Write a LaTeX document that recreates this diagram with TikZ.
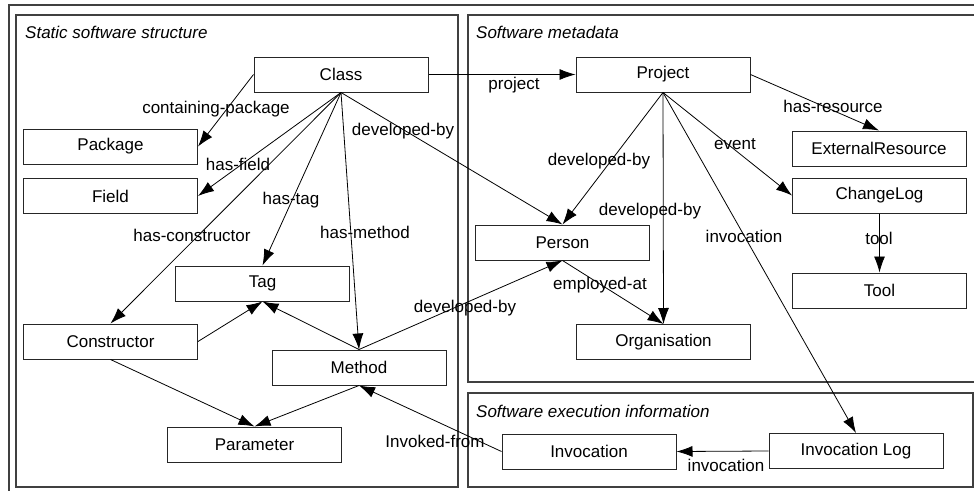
\documentclass[tikz,border=0pt]{standalone}
\usepackage{fontspec}
\setmainfont{Liberation Sans}
\usetikzlibrary{arrows.meta}
\begin{document}
\begin{tikzpicture}[x=1pt,y=-1pt,
  box/.style={draw=black!85,line width=1pt,minimum width=174pt,minimum height=35pt,inner sep=0pt,font=\fontsize{17}{19}\selectfont},
  frame/.style={draw=black!75,line width=1.4pt},
  ftitle/.style={anchor=west,inner sep=0pt,font=\fontsize{17}{19}\selectfont\itshape},
  lbl/.style={inner sep=0pt,font=\fontsize{17}{19}\selectfont},
  edge/.style={draw=black,line width=0.8pt,-{Latex[length=16pt,width=11pt]}}]
\useasboundingbox (0,0) rectangle (974,490);
% frames
\draw[frame] (9,495) -- (9,5) -- (980,5);
\draw[frame] (16,15) rectangle (458,487);
\draw[frame] (980,15) -- (468,15) -- (468,382) -- (980,382);
\draw[frame] (468,393) rectangle (973,487);
\node[ftitle] (t1) at (25,32) {Static software structure};
\node[ftitle] (t2) at (476,32) {Software metadata};
\node[ftitle] (t3) at (476,411) {Software execution information};
% nodes
\node[box] (class) at (341,74.5) {Class};
\node[box] (project) at (663,74.5) {Project};
\node[box] (package) at (110.5,146.5) {Package};
\node[box] (field) at (110.5,196) {Field};
\node[box] (extres) at (879,148.5) {ExternalResource};
\node[box] (changelog) at (879.5,195.5) {ChangeLog};
\node[box] (tool) at (879.5,290.5) {Tool};
\node[box] (person) at (562.5,242.5) {Person};
\node[box] (org) at (663.5,342) {Organisation};
\node[box] (tag) at (262.5,283.5) {Tag};
\node[box] (constr) at (110.5,341.5) {Constructor};
\node[box] (method) at (359,367.5) {Method};
\node[box] (param) at (254.5,444.5) {Parameter};
\node[box] (invoc) at (589,451.5) {Invocation};
\node[box] (invlog) at (856,451) {Invocation Log};
% edges
\draw[edge] (class.west) -- (package.east);
\draw[edge] (class.south) -- (field.east);
\draw[edge] (class.south) -- (constr.north);
\draw[edge] (class.south) -- (tag.north);
\draw[edge] (class.south) -- (method.north);
\draw[edge] (class.south) -- (person.north);
\draw[edge] (class.east) -- (project.west);
\draw[edge] (project.south) -- (person.north);
\draw[edge] (project.south) -- (org.north);
\draw[edge] (project.east) -- (extres.north);
\draw[edge] (project.south) -- (changelog.west);
\draw[edge] (project.south) -- (invlog.north);
\draw[edge] (changelog.south) -- (tool.north);
\draw[edge] (person.south) -- (org.north);
\draw[edge] (method.north) -- (person.south);
\draw[edge] (constr.east) -- (tag.south);
\draw[edge] (method.north) -- (tag.south);
\draw[edge] (constr.south) -- (param.north);
\draw[edge] (method.south) -- (param.north);
\draw[edge] (invoc.west) -- (method.south);
\draw[edge] (invlog.west) -- (invoc.east);
% labels
\node[lbl] (l1) at (216,109) {containing-package};
\node[lbl] (l2) at (238,164) {has-field};
\node[lbl] (l3) at (192,235) {has-constructor};
\node[lbl] (l4) at (291,200) {has-tag};
\node[lbl] (l5) at (365,232) {has-method};
\node[lbl] (l6) at (403,131) {developed-by};
\node[lbl] (l7) at (514,85) {project};
\node[lbl] (l8) at (599,161) {developed-by};
\node[lbl] (l9) at (650,211) {developed-by};
\node[lbl] (l10) at (833,106) {has-resource};
\node[lbl] (l11) at (735,144) {event};
\node[lbl] (l12) at (744,236) {invocation};
\node[lbl] (l13) at (879,238) {tool};
\node[lbl] (l14) at (600,285) {employed-at};
\node[lbl] (l15) at (465,308) {developed-by};
\node[lbl] (l16) at (435,441) {Invoked-from};
\node[lbl] (l17) at (726,465) {invocation};
\end{tikzpicture}
\end{document}
